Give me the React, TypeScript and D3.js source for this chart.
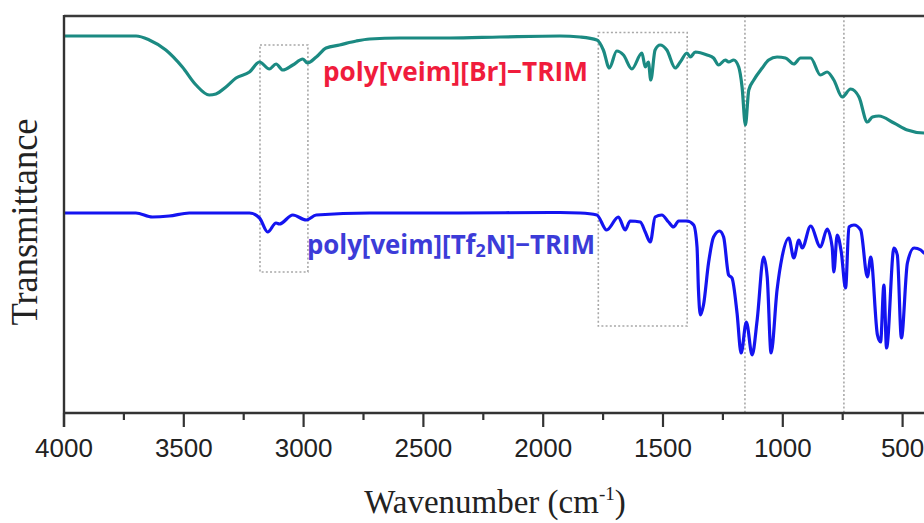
import React from "react";
import * as d3 from "d3";

// ---- data (wavenumber cm^-1, transmittance a.u.) ----
const brWavenumber = [4000,3699,3644,3575,3506,3449,3394,3366,3324,3282,3226,3184,3143,3115,3087,3045,3003,2984,2947,2906,2850,2780,2724,2599,2390,2181,1930,1846,1776,1749,1724,1693,1665,1630,1588,1574,1561,1551,1533,1512,1484,1449,1428,1400,1386,1365,1316,1289,1268,1240,1226,1205,1184,1170,1156,1142,1121,1086,1059,1024,989,954,926,884,843,815,787,752,717,682,647,626,599,536,480,411,400];
const brTransmittance = [374,374,370,360,343,325,315,316,323,332,338,348,341,346,340,345,351,347,353,362,365,369,371,372,372,373,374,373,370,360,342,359,355,341,357,343,348,330,360,365,360,342,348,357,353,358,355,352,345,350,348,350,343,323,285,320,330,342,350,353,352,346,352,352,335,338,330,313,321,313,288,293,294,287,280,277,277];

const tf2nWavenumber = [4000,3700,3631,3561,3477,3226,3184,3150,3115,3101,3045,2989,2947,2724,2390,1930,1846,1776,1735,1686,1658,1637,1595,1574,1553,1533,1505,1477,1456,1435,1400,1372,1358,1352,1344,1331,1310,1289,1264,1247,1226,1212,1191,1174,1152,1128,1107,1080,1065,1049,1024,1003,975,954,933,919,884,843,815,794,787,773,756,738,724,703,675,647,633,605,592,578,567,536,522,505,480,452,424,411,400];
const tf2nTransmittance = [197,197,193,194,197,197,192,178,187,186,195,190,195,197,197,197.5,197,195,180,193,180,189,188,178,168,193,195,188,183,189,189,185,163,120,95,105,147,173,179,173,135,132,97,57,88,55,90,153,133,57,120,153,172,152,170,162,184,163,181,163,138,175,158,122,183,185,180,133,153,75,68,125,62,162,155,72,147,162,160,157,156];

const xTicks = [4000, 3500, 3000, 2500, 2000, 1500, 1000, 500];
const xMinorTicks = [3750, 3250, 2750, 2250, 1750, 1250, 750];

// highlight regions: [wavenumber from, to, transmittance low, high]
const boxRegions = [
  [3182, 2982, 138, 365],
  [1770, 1399, 84, 377.5],
];
const markerLines = [1158, 745];

const seriesLabels = ["poly[veim][Br]\u2212TRIM", "poly[veim][Tf", "2", "N]\u2212TRIM"];

export default function App() {
  const W = 924, H = 523;
  const left = 64, top = 16, bottom = 413;
  const x = d3.scaleLinear().domain([4000, 400]).range([left, left + 3600 * 0.2396]);
  const y = d3.scaleLinear().domain([-3, 394]).range([bottom, top]);

  const line = d3
    .line<[number, number]>()
    .x((d) => x(d[0]))
    .y((d) => y(d[1]))
    .curve(d3.curveMonotoneX);

  const brData = brWavenumber.map((w, i) => [w, brTransmittance[i]] as [number, number]);
  const tfData = tf2nWavenumber.map((w, i) => [w, tf2nTransmittance[i]] as [number, number]);

  const axisColor = "#333";

  return (
    <svg
      width={W}
      height={H}
      style={{ position: "absolute", left: 0, top: 0, background: "#fff" }}
      xmlns="http://www.w3.org/2000/svg"
    >
      <defs>
        <clipPath id="plotClip">
          <rect x={left} y={top} width={W - left} height={bottom - top} />
        </clipPath>
      </defs>
      <rect x={0} y={0} width={W} height={H} fill="#fff" />

      {/* dotted guides */}
      {boxRegions.map((b, i) => (
        <rect
          key={"b" + i}
          x={x(b[0])}
          y={y(b[3])}
          width={x(b[1]) - x(b[0])}
          height={y(b[2]) - y(b[3])}
          fill="none"
          stroke="#a8a8a8"
          strokeWidth={1.6}
          strokeDasharray="2,2.2"
        />
      ))}
      {markerLines.map((m, i) => (
        <line
          key={"m" + i}
          x1={x(m)}
          x2={x(m)}
          y1={top}
          y2={bottom}
          stroke="#a8a8a8"
          strokeWidth={1.6}
          strokeDasharray="2,2.2"
        />
      ))}

      {/* spectra */}
      <g clipPath="url(#plotClip)">
        <path d={line(brData) || ""} fill="none" stroke="#1b8a82" strokeWidth={3.2} strokeLinejoin="round" />
        <path d={line(tfData) || ""} fill="none" stroke="#1414f0" strokeWidth={3.2} strokeLinejoin="round" />
      </g>

      {/* frame */}
      <line x1={left} x2={W} y1={top} y2={top} stroke="#3a3a3a" strokeWidth={2.6} />
      <line x1={left} x2={left} y1={top - 1} y2={bottom + 14} stroke={axisColor} strokeWidth={2.4} />
      <line x1={left} x2={W} y1={bottom} y2={bottom} stroke={axisColor} strokeWidth={2.6} />

      {xTicks.map((t) => (
        <g key={"t" + t}>
          <line x1={x(t)} x2={x(t)} y1={bottom} y2={bottom + 14} stroke={axisColor} strokeWidth={2.2} />
          <text
            x={x(t)}
            y={457}
            textAnchor="middle"
            fontFamily="'Liberation Sans', Arial, sans-serif"
            fontSize={26}
            fill="#222"
          >
            {t}
          </text>
        </g>
      ))}
      {xMinorTicks.map((t) => (
        <line key={"mt" + t} x1={x(t)} x2={x(t)} y1={bottom} y2={bottom + 7} stroke={axisColor} strokeWidth={2.2} />
      ))}

      {/* axis titles */}
      <text
        x={495}
        y={513}
        textAnchor="middle"
        fontFamily="'Liberation Serif', 'Times New Roman', serif"
        fontSize={33}
        fill="#222"
      >
        Wavenumber (cm
        <tspan dy={-13} fontSize={19}>-1</tspan>
        <tspan dy={13}>)</tspan>
      </text>
      <text
        transform="translate(37,222) rotate(-90)"
        textAnchor="middle"
        fontFamily="'Liberation Serif', 'Times New Roman', serif"
        fontSize={37}
        textLength={207}
        lengthAdjust="spacingAndGlyphs"
        fill="#222"
      >
        Transmittance
      </text>

      {/* series labels */}
      <text
        x={323}
        y={81}
        fontFamily="'Open Sans', 'Noto Sans', sans-serif"
        fontWeight="bold"
        fontSize={27}
        textLength={265}
        lengthAdjust="spacingAndGlyphs"
        fill="#f01c3c"
      >
        {seriesLabels[0]}
      </text>
      <text
        x={307}
        y={254}
        fontFamily="'Open Sans', 'Noto Sans', sans-serif"
        fontWeight="bold"
        fontSize={26}
        textLength={288}
        lengthAdjust="spacingAndGlyphs"
        fill="#3c3cd8"
      >
        {seriesLabels[1]}
        <tspan fontSize={18} dy={3}>{seriesLabels[2]}</tspan>
        <tspan dy={-3}>{seriesLabels[3]}</tspan>
      </text>
    </svg>
  );
}
